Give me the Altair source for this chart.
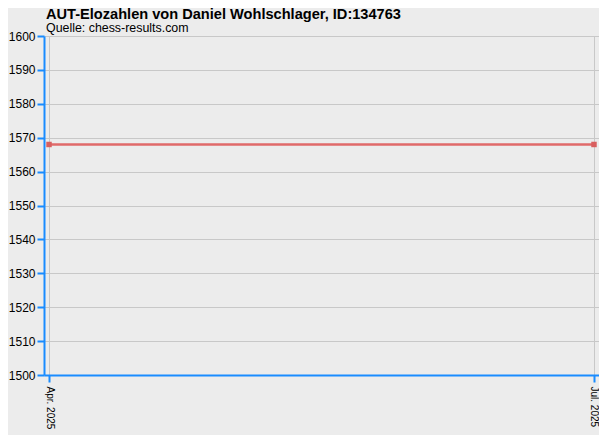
import altair as alt
import pandas as pd

months = ["Apr. 2025", "Jul. 2025"]
elo = [1568, 1568]
y_ticks = [1500, 1510, 1520, 1530, 1540, 1550, 1560, 1570, 1580, 1590, 1600]

df = pd.DataFrame({"Monat": months, "Elo": elo})

BLUE = "#1a8cff"
FONT = "Liberation Sans"

x = alt.X(
    "Monat:N",
    sort=months,
    scale=alt.Scale(type="point", padding=0.0092),
    axis=alt.Axis(
        title=None, labelAngle=90, labelAlign="left", labelBaseline="middle",
        labelFontSize=10, labelColor="#000000", labelPadding=4,
        domainColor=BLUE, domainWidth=2, tickColor=BLUE, tickWidth=2, tickSize=7,
        gridColor="#c8c8c8", gridWidth=1, grid=True, labelFont=FONT,
    ),
)
y = alt.Y(
    "Elo:Q",
    scale=alt.Scale(domain=[1500, 1600], nice=False, zero=False),
    axis=alt.Axis(
        title=None, values=y_ticks, format="d", labelFontSize=12, labelColor="#000000",
        labelPadding=2, domainColor=BLUE, domainWidth=2, tickColor=BLUE,
        tickWidth=2, tickSize=7, gridColor="#c8c8c8", gridWidth=1, labelFont=FONT,
    ),
)

line = alt.Chart(df).mark_line(color="#e06a6a", strokeWidth=2.5).encode(x=x, y=y)
pts = alt.Chart(df).mark_point(
    filled=True, shape="square", size=30, color="#d95f5f", opacity=1
).encode(x=x, y=y)

chart = (
    alt.layer(line, pts)
    .properties(
        width=555,
        height=339,
        padding={"left": 36, "top": 28, "right": 0, "bottom": 60},
        autosize=alt.AutoSizeParams(type="none"),
        background="#ececec",
        title=alt.TitleParams(
            text="AUT-Elozahlen von Daniel Wohlschlager, ID:134763",
            subtitle="Quelle: chess-results.com",
            anchor="start", frame="group",
            font=FONT, fontSize=14.6, fontWeight="bold", color="#000000",
            subtitleFont=FONT, subtitleFontSize=12.4, subtitleColor="#000000",
            subtitlePadding=0, offset=-4, dx=2,
        ),
    )
    .configure_view(stroke=None, fill="#ececec")
)

chart.save("out.html", embed_options={"renderer": "svg", "actions": False})
